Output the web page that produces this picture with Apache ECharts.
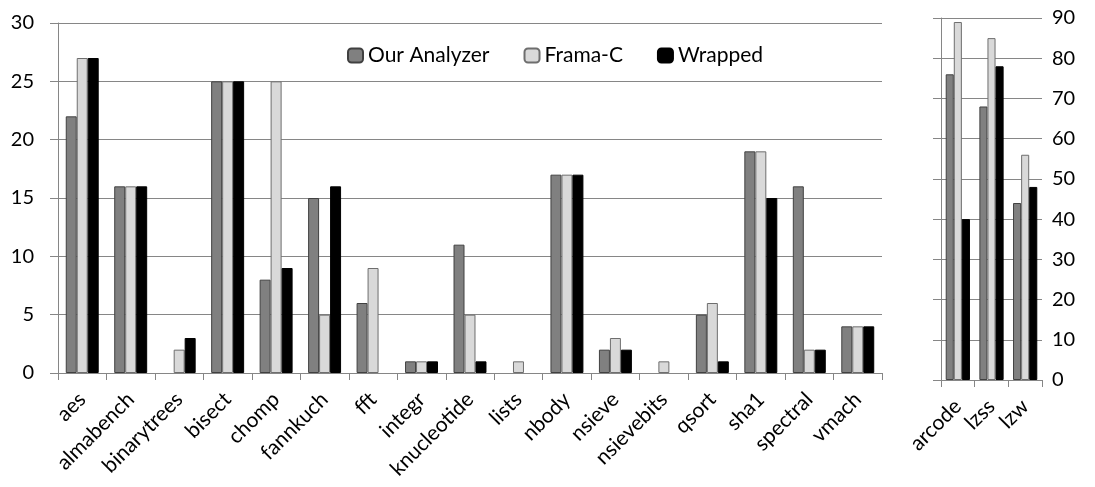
<!DOCTYPE html>
<html>
<head>
<meta charset="utf-8">
<script src="https://cdn.jsdelivr.net/npm/echarts@6/dist/echarts.min.js"></script>
<style>
  html, body { margin: 0; padding: 0; background: #fff; }
  #chart { width: 1095px; height: 487px; }
</style>
</head>
<body>
<div id="chart"></div>
<script>
  // benchmarks on the left (scale 0-30)
  var smallNames = ['aes', 'almabench', 'binarytrees', 'bisect', 'chomp', 'fannkuch', 'fft', 'integr',
    'knucleotide', 'lists', 'nbody', 'nsieve', 'nsievebits', 'qsort', 'sha1', 'spectral', 'vmach'];
  var smallOurs    = [22, 16, 0, 25, 8, 15, 6, 1, 11, 0, 17, 2, 0, 5, 19, 16, 4];
  var smallFramaC  = [27, 16, 2, 25, 25, 5, 9, 1, 5, 1, 17, 3, 1, 6, 19, 2, 4];
  var smallWrapped = [27, 16, 3, 25, 9, 16, 0, 1, 1, 0, 17, 2, 0, 1, 15, 2, 4];

  // benchmarks on the right (scale 0-90)
  var bigNames   = ['arcode', 'lzss', 'lzw'];
  var bigOurs    = [76, 68, 44];
  var bigFramaC  = [89, 85, 56];
  var bigWrapped = [40, 78, 48];

  var seriesNames = ['Our Analyzer', 'Frama-C', 'Wrapped'];

  var font = 'Lato, "Open Sans", sans-serif';
  var axisGray = '#868686';
  var styles = [
    { color: '#808080', borderColor: '#404040', borderWidth: 1 },
    { color: '#d9d9d9', borderColor: '#6e6e6e', borderWidth: 1 },
    { color: '#000000', borderColor: '#000000', borderWidth: 1 }
  ];

  var chart = echarts.init(document.getElementById('chart'));

  // zero values get no bar at all (no border sliver)
  function noZero(arr) {
    return arr.map(function (v) { return v === 0 ? '-' : v; });
  }

  function catAxis(idx, names) {
    return {
      type: 'category',
      gridIndex: idx,
      data: names,
      axisLine: { lineStyle: { color: axisGray } },
      axisTick: { show: true, length: 7, lineStyle: { color: axisGray } },
      axisLabel: { rotate: 45, interval: 0, margin: 23, color: '#000', fontFamily: font, fontSize: 21 }
    };
  }

  var leftSets = [smallOurs, smallFramaC, smallWrapped];
  var rightSets = [bigOurs, bigFramaC, bigWrapped];
  var series = [];
  seriesNames.forEach(function (n, i) {
    series.push({
      name: n, type: 'bar', xAxisIndex: 0, yAxisIndex: 0,
      data: noZero(leftSets[i]), barGap: '0%', barCategoryGap: '32%',
      itemStyle: styles[i]
    });
  });
  seriesNames.forEach(function (n, i) {
    series.push({
      name: n, type: 'bar', xAxisIndex: 1, yAxisIndex: 1,
      data: noZero(rightSets[i]), barGap: '0%', barCategoryGap: '28%',
      itemStyle: styles[i]
    });
  });

  var option = {
    animation: false,
    backgroundColor: '#fff',
    textStyle: { fontFamily: font },
    legend: {
      data: seriesNames,
      left: 342,
      top: 40,
      itemWidth: 15,
      itemHeight: 14,
      itemGap: 34,
      textStyle: { fontSize: 21, color: '#000', fontFamily: font }
    },
    grid: [
      { left: 58, top: 23, width: 824, height: 350 },
      { left: 941, top: 18, width: 101, height: 362 }
    ],
    xAxis: [catAxis(0, smallNames), catAxis(1, bigNames)],
    yAxis: [
      {
        type: 'value', gridIndex: 0, min: 0, max: 30, interval: 5,
        axisLine: { show: true, lineStyle: { color: axisGray } },
        axisTick: { show: true, length: 8, lineStyle: { color: axisGray } },
        splitLine: { lineStyle: { color: axisGray, width: 1 } },
        axisLabel: { color: '#000', fontFamily: font, fontSize: 20, margin: 24 }
      },
      {
        type: 'value', gridIndex: 1, min: 0, max: 90, interval: 10, position: 'left',
        axisLine: { show: true, lineStyle: { color: axisGray } },
        axisTick: { show: true, length: 8, lineStyle: { color: axisGray } },
        splitLine: { lineStyle: { color: axisGray, width: 1 } },
        axisLabel: { show: false }
      },
      {
        // labels of the right chart sit on its right side
        type: 'value', gridIndex: 1, min: 0, max: 90, interval: 10, position: 'right',
        axisLine: { show: false },
        axisTick: { show: false },
        splitLine: { show: false },
        axisLabel: { color: '#000', fontFamily: font, fontSize: 20, margin: 10 }
      }
    ],
    series: series
  };
  chart.setOption(option);
</script>
</body>
</html>
